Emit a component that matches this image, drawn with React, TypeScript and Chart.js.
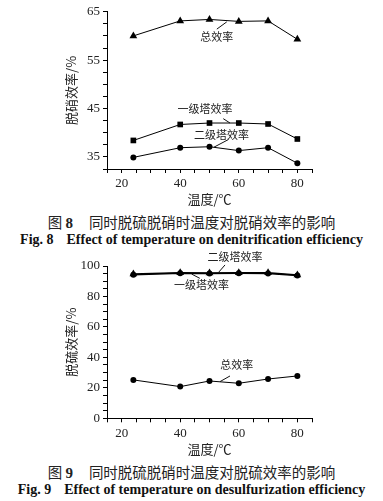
import React, { useEffect, useRef } from 'react';
import { Chart, registerables } from 'chart.js';

Chart.register(...registerables);

// ---- data ----
const temps = [24, 40, 50, 60, 70, 80];
// Fig. 8 denitrification efficiency (%)
const denoxTotal = [60.0, 63.1, 63.4, 63.0, 63.1, 59.3];
const denoxStage1 = [38.4, 41.7, 42.0, 42.0, 41.8, 38.7];
const denoxStage2 = [34.9, 36.9, 37.1, 36.3, 36.9, 33.7];
// Fig. 9 desulfurization efficiency (%)
const desoxStage2 = [94.8, 95.6, 95.4, 95.6, 95.5, 94.1];
const desoxStage1 = [94.2, 95.2, 95.0, 95.2, 95.0, 93.8];
const desoxTotal = [25.2, 20.8, 24.5, 23.0, 25.8, 27.8];

const xTickLabels = [20, 40, 60, 80];
const fig8YTickLabels = [35, 45, 55, 65];
const fig9YTickLabels = [0, 20, 40, 60, 80, 100];

// callout labels (data coordinates)
const fig8Callouts = [
  { text: '总效率', at: [52.5, 59.8], from: [52.5, 61.4], to: [55.9, 62.9] },
  { text: '一级塔效率', at: [48.5, 45.0], from: [54.7, 42.9], to: [57.0, 42.0] },
  { text: '二级塔效率', at: [54.1, 39.5], from: [56.5, 38.6], to: [51.5, 37.0] },
];
const fig9Callouts = [
  { text: '二级塔效率', at: [58.7, 106.1], from: [55.3, 100.7], to: [53.0, 95.6] },
  { text: '一级塔效率', at: [47.3, 87.5], from: [43.9, 94.7], to: [46.7, 91.9] },
  { text: '总效率', at: [59.3, 35.0], from: [57.0, 27.8], to: [53.6, 24.1] },
];

const CJK = '"Noto Sans CJK SC", sans-serif';
const SERIF = '"Liberation Serif", "Times New Roman", serif';

const calloutPlugin = {
  id: 'callouts',
  afterDatasetsDraw(chart: any, _args: any, opts: any) {
    const { ctx } = chart;
    const x = chart.scales.x;
    const y = chart.scales.y;
    ctx.save();
    ctx.font = `11px ${CJK}`;
    ctx.fillStyle = '#222';
    ctx.textAlign = 'center';
    ctx.textBaseline = 'middle';
    ctx.strokeStyle = '#111';
    ctx.lineWidth = 1;
    for (const c of opts.items || []) {
      ctx.beginPath();
      ctx.moveTo(x.getPixelForValue(c.from[0]), y.getPixelForValue(c.from[1]));
      ctx.lineTo(x.getPixelForValue(c.to[0]), y.getPixelForValue(c.to[1]));
      ctx.stroke();
      ctx.fillText(c.text, x.getPixelForValue(c.at[0]), y.getPixelForValue(c.at[1]));
    }
    ctx.restore();
  },
};

function near(v: number, list: number[]) {
  return list.some((t) => Math.abs(t - v) < 1e-6);
}

function makeConfig(opts: {
  datasets: { data: number[]; style: string; radius: number; width: number }[];
  yMin: number;
  yMax: number;
  yStep: number;
  yLabels: number[];
  yTitle: string;
  padTop: number;
  chartBottom: number;
  canvasH: number;
  callouts: any[];
}) {
  return {
    type: 'line' as const,
    data: {
      datasets: opts.datasets.map((d) => ({
        data: temps.map((t, i) => ({ x: t, y: d.data[i] })),
        borderColor: '#000',
        backgroundColor: '#000',
        borderWidth: d.width,
        pointStyle: d.style,
        pointRadius: d.radius,
        pointBackgroundColor: '#000',
        pointBorderColor: '#000',
        pointBorderWidth: 0,
        tension: 0,
        clip: false as any,
      })),
    },
    options: {
      responsive: false,
      animation: false as const,
      devicePixelRatio: 1,
      layout: { padding: { left: 0, right: 71, top: opts.padTop, bottom: 0 } },
      plugins: {
        legend: { display: false },
        tooltip: { enabled: false },
        callouts: { items: opts.callouts },
      },
      scales: {
        x: {
          type: 'linear' as const,
          min: 15,
          max: 85,
          afterFit: (s: any) => {
            s.height = opts.canvasH - opts.chartBottom;
          },
          afterBuildTicks: (s: any) => {
            const t = [];
            for (let v = 15; v <= 85.001; v += 5) t.push({ value: v });
            s.ticks = t;
          },
          ticks: {
            autoSkip: false,
            maxRotation: 0,
            padding: 3,
            color: '#222',
            font: { family: SERIF, size: 13 },
            callback: (v: any) => (near(Number(v), xTickLabels) ? String(v) : ''),
          },
          grid: { drawOnChartArea: false, drawTicks: true, tickLength: 4, color: '#000' },
          border: { display: true, color: '#000', width: 1 },
          title: {
            display: true,
            text: '温度/℃',
            color: '#222',
            font: { family: CJK, size: 13 },
            padding: { top: 0, bottom: 3 },
          },
        },
        y: {
          type: 'linear' as const,
          min: opts.yMin,
          max: opts.yMax,
          afterFit: (s: any) => {
            s.width = 107;
          },
          afterBuildTicks: (s: any) => {
            const t = [];
            for (let v = opts.yMin; v <= opts.yMax + 1e-6; v += opts.yStep) t.push({ value: v });
            s.ticks = t;
          },
          ticks: {
            autoSkip: false,
            padding: 3,
            color: '#222',
            font: { family: SERIF, size: 13 },
            callback: (v: any) => (near(Number(v), opts.yLabels) ? String(v) : ''),
          },
          grid: { drawOnChartArea: false, drawTicks: true, tickLength: 4, color: '#000' },
          border: { display: true, color: '#000', width: 1 },
          title: {
            display: true,
            text: opts.yTitle,
            color: '#222',
            font: { family: CJK, size: 13 },
            padding: { top: 63, bottom: 0 },
          },
        },
      },
    },
    plugins: [calloutPlugin],
  };
}

function ChartCanvas(props: { config: any; top: number; height: number }) {
  const ref = useRef<HTMLCanvasElement | null>(null);
  useEffect(() => {
    if (!ref.current) return;
    const chart = new Chart(ref.current, props.config);
    return () => chart.destroy();
  }, []);
  return (
    <canvas
      ref={ref}
      width={383}
      height={props.height}
      style={{ position: 'absolute', left: 0, top: props.top, width: 383, height: props.height }}
    />
  );
}

const fig8Config = makeConfig({
  datasets: [
    { data: denoxTotal, style: 'triangle', radius: 4.5, width: 1 },
    { data: denoxStage1, style: 'rect', radius: 4, width: 1 },
    { data: denoxStage2, style: 'circle', radius: 3, width: 1 },
  ],
  yMin: 32.5,
  yMax: 65,
  yStep: 2.5,
  yLabels: fig8YTickLabels,
  yTitle: '脱硝效率/%',
  padTop: 11.7,
  chartBottom: 169,
  canvasH: 210,
  callouts: fig8Callouts,
});

const fig9Config = makeConfig({
  datasets: [
    { data: desoxStage2, style: 'triangle', radius: 4.5, width: 1.5 },
    { data: desoxStage1, style: 'circle', radius: 3, width: 1.5 },
    { data: desoxTotal, style: 'circle', radius: 3, width: 1 },
  ],
  yMin: 0,
  yMax: 100,
  yStep: 5,
  yLabels: fig9YTickLabels,
  yTitle: '脱硫效率/%',
  padTop: 21,
  chartBottom: 173.3,
  canvasH: 215,
  callouts: fig9Callouts,
});

function Caption(props: { top: number; num: string; zh: string; en: string }) {
  return (
    <>
      <div
        style={{
          position: 'absolute',
          left: 0,
          top: props.top,
          width: 383,
          textAlign: 'center',
          whiteSpace: 'pre',
          font: `14.5px ${CJK}`,
          lineHeight: '18px',
          color: '#222',
        }}
      >
        图 <b style={{ fontFamily: SERIF, fontSize: 15 }}>{props.num}</b>
        <span style={{ display: 'inline-block', width: 16 }} />
        {props.zh}
      </div>
      <div
        style={{
          position: 'absolute',
          left: 0,
          top: props.top + 18,
          width: 383,
          textAlign: 'center',
          whiteSpace: 'pre',
          font: `bold 14px ${SERIF}`,
          lineHeight: '18px',
          color: '#111',
        }}
      >
        {`Fig. ${props.num}`}
        <span style={{ display: 'inline-block', width: 13 }} />
        {props.en}
      </div>
    </>
  );
}

export default function App() {
  return (
    <div
      style={{
        position: 'absolute',
        left: 0,
        top: 0,
        width: 383,
        height: 501,
        background: '#fff',
        overflow: 'hidden',
      }}
    >
      <ChartCanvas config={fig8Config} top={0} height={210} />
      <Caption
        top={213}
        num="8"
        zh="同时脱硫脱硝时温度对脱硝效率的影响"
        en="Effect of temperature on denitrification efficiency"
      />
      <ChartCanvas config={fig9Config} top={245} height={215} />
      <Caption
        top={463}
        num="9"
        zh="同时脱硫脱硝时温度对脱硫效率的影响"
        en="Effect of temperature on desulfurization efficiency"
      />
    </div>
  );
}
